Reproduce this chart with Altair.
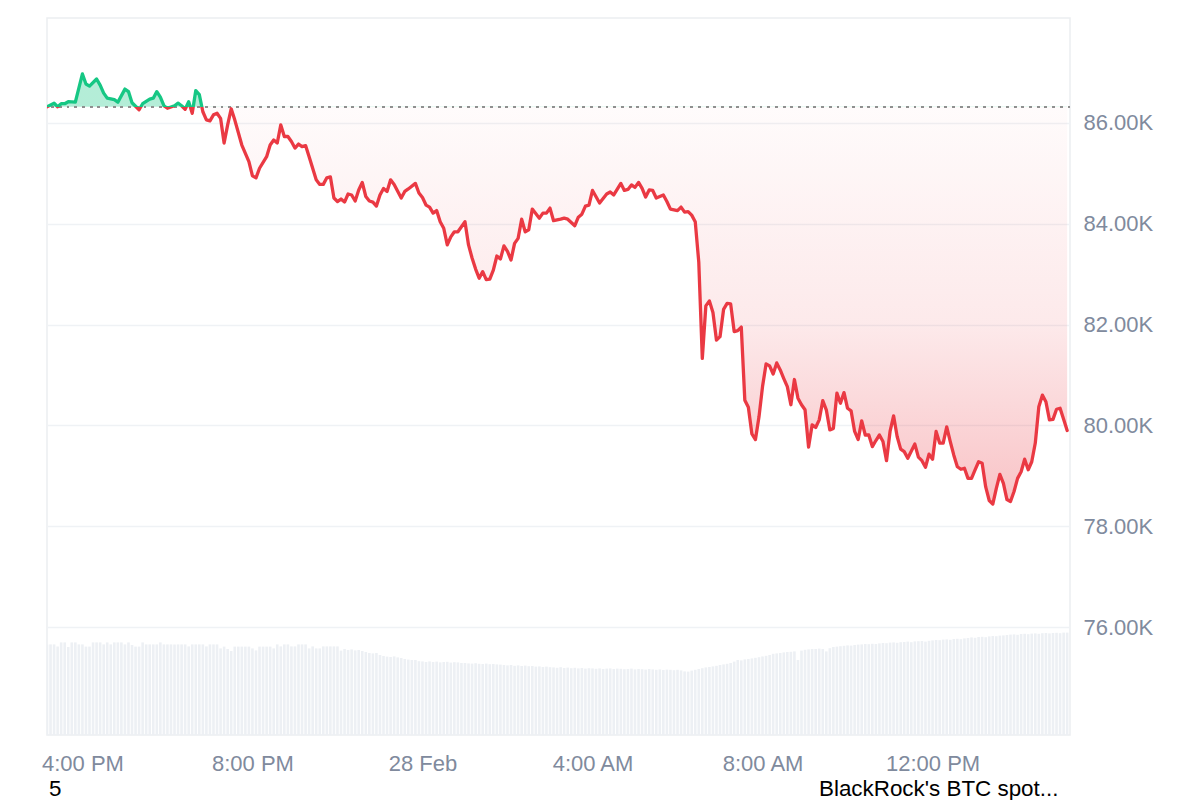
import altair as alt
import pandas as pd

# ---------------- data ----------------
START = "2025-02-27T15:10:00Z"      # first 5-minute slot
X_END = "2025-02-28T15:14:00Z"
STEP_MINUTES = 5
BASE_PRICE = 86320                  # opening price (dotted reference line)

# slot index (5-minute steps since START) of each price vertex
slots = [0, 2, 3, 4, 5, 6, 8, 10, 11, 12, 14, 15, 16, 17, 19, 20, 22, 23, 24, 26,
         27, 29, 30, 31, 32, 33, 34, 36, 37, 38, 39, 40, 41, 42, 43, 44, 45, 46, 47, 48,
         49, 50, 51, 52, 53, 55, 57, 58, 59, 60, 62, 63, 64, 65, 66, 67, 68, 69, 70, 71,
         72, 73, 74, 75, 76, 77, 78, 79, 80, 81, 82, 83, 84, 85, 86, 87, 88, 89, 90, 91,
         92, 93, 94, 95, 96, 97, 98, 100, 101, 102, 104, 105, 106, 107, 108, 109, 110, 111, 112, 113,
         114, 115, 116, 117, 118, 119, 120, 121, 122, 123, 124, 125, 126, 127, 128, 129, 130, 131, 132, 133,
         134, 135, 136, 137, 139, 140, 141, 142, 143, 145, 146, 147, 149, 150, 151, 152, 153, 154, 156, 158,
         159, 160, 162, 163, 164, 165, 166, 167, 168, 169, 170, 171, 172, 174, 175, 176, 178, 179, 180, 181,
         182, 183, 184, 185, 186, 187, 188, 189, 190, 191, 192, 193, 194, 195, 196, 197, 198, 199, 200, 201,
         202, 203, 204, 205, 206, 207, 208, 209, 210, 211, 212, 213, 214, 215, 216, 217, 218, 219, 220, 221,
         222, 223, 224, 225, 226, 227, 228, 229, 230, 231, 232, 233, 234, 235, 236, 237, 238, 239, 240, 241,
         242, 243, 245, 246, 247, 248, 249, 250, 251, 252, 253, 254, 255, 256, 257, 258, 259, 260, 261, 262,
         263, 264, 265, 266, 267, 268, 269, 270, 271, 272, 273, 274, 275, 276, 277, 278, 279, 280, 281, 282,
         283, 284, 285, 286, 287, 288]

prices = [86320, 86390, 86320, 86380, 86380, 86420, 86410, 86970, 86770, 86730, 86870, 86750, 86590, 86490, 86460, 86410, 86670, 86620, 86400, 86260,
          86380, 86470, 86490, 86620, 86510, 86340, 86290, 86340, 86390, 86340, 86270, 86420, 86190, 86640, 86560, 86220, 86060, 86040, 86160, 86190,
          86090, 85600, 85960, 86280, 86060, 85560, 85230, 84950, 84910, 85100, 85330, 85560, 85660, 85600, 85960, 85730, 85730, 85630, 85500, 85580,
          85530, 85550, 85330, 85100, 84870, 84780, 84780, 84910, 84930, 84510, 84440, 84490, 84430, 84590, 84570, 84450, 84670, 84820, 84540, 84450,
          84430, 84350, 84570, 84700, 84640, 84870, 84780, 84510, 84640, 84690, 84800, 84610, 84520, 84370, 84330, 84210, 84260, 84040, 83910, 83580,
          83740, 83840, 83840, 83940, 84040, 83580, 83320, 83100, 82920, 83050, 82890, 82900, 83080, 83360, 83300, 83560, 83450, 83280, 83610, 83710,
          84090, 83840, 83880, 84290, 84110, 84210, 84210, 84310, 84060, 84090, 84110, 84090, 83960, 84130, 84190, 84350, 84370, 84660, 84410, 84590,
          84630, 84570, 84800, 84660, 84680, 84770, 84720, 84820, 84700, 84530, 84670, 84660, 84510, 84570, 84440, 84290, 84260, 84330, 84230, 84240,
          84170, 84040, 83240, 81330, 82370, 82470, 82240, 81690, 81760, 82300, 82420, 82410, 81860, 81880, 81950, 80500, 80360, 79830, 79720, 80170,
          80770, 81220, 81180, 81020, 81240, 81100, 80930, 80770, 80410, 80910, 80540, 80410, 80310, 79570, 80010, 79960, 80110, 80490, 80310, 79910,
          79940, 80640, 80440, 80650, 80340, 80290, 79880, 79720, 80090, 79810, 79810, 79580, 79700, 79810, 79680, 79300, 79880, 80190, 79780, 79530,
          79480, 79350, 79630, 79370, 79300, 79170, 79430, 79330, 79880, 79650, 79650, 79970, 79680, 79410, 79180, 79130, 79150, 78950, 78950, 79120,
          79280, 79250, 78780, 78510, 78440, 78750, 79030, 78850, 78530, 78490, 78690, 78950, 79080, 79330, 79120, 79280, 79650, 80370, 80600, 80470,
          80110, 80120, 80320, 80340, 80120, 79900]

# volume bars, one per 5-minute slot (arbitrary units)
volume = [45.3, 45.3, 45.3, 44.3, 46.3, 46.3, 44.0, 46.3, 46.3, 45.3,
          45.3, 44.2, 44.2, 46.3, 46.3, 46.3, 45.3, 46.3, 45.3, 46.3,
          46.3, 46.3, 45.3, 46.3, 45.0, 44.2, 44.2, 46.3, 45.3, 45.3,
          45.3, 45.3, 46.3, 45.3, 45.3, 45.3, 45.3, 45.3, 45.3, 45.3,
          44.3, 45.3, 45.3, 45.3, 45.3, 44.3, 45.3, 45.3, 45.3, 43.3,
          44.2, 43.0, 42.0, 44.2, 44.2, 44.2, 44.2, 44.2, 43.3, 42.3,
          44.2, 44.2, 44.2, 44.2, 43.3, 45.3, 44.3, 45.3, 45.3, 44.3,
          44.3, 45.3, 45.3, 45.3, 43.3, 44.3, 43.3, 43.3, 44.3, 44.3,
          44.3, 44.3, 44.3, 42.2, 43.0, 42.5, 42.8, 42.3, 42.5, 42.0,
          41.5, 41.0, 40.8, 41.0, 40.0, 39.5, 39.2, 39.0, 39.3, 38.8,
          38.5, 38.0, 37.7, 37.5, 37.5, 36.9, 36.8, 36.5, 36.8, 36.5,
          36.7, 36.3, 36.5, 36.6, 36.2, 36.4, 36.3, 36.0, 36.0, 35.8,
          35.7, 35.9, 35.6, 35.5, 35.7, 35.4, 35.5, 35.3, 35.2, 35.0,
          34.8, 35.0, 34.6, 34.8, 34.5, 34.7, 34.4, 34.5, 34.2, 34.3,
          34.0, 34.2, 33.9, 33.8, 33.6, 33.9, 33.5, 33.7, 33.4, 33.6,
          33.3, 33.5, 33.2, 33.4, 33.3, 33.1, 33.3, 33.0, 33.2, 33.3,
          33.0, 33.2, 33.1, 32.9, 33.0, 33.2, 32.8, 33.0, 32.9, 32.7,
          33.0, 32.8, 32.6, 32.8, 32.5, 32.7, 32.6, 32.4, 32.6, 32.3,
          31.8, 31.7, 32.2, 32.6, 33.0, 33.4, 33.8, 34.0, 34.3, 34.6,
          35.0, 35.3, 35.6, 36.0, 36.7, 37.5, 37.3, 37.8, 38.0, 38.3,
          38.6, 38.9, 39.3, 39.6, 40.0, 40.6, 40.8, 41.0, 41.3, 41.5,
          41.6, 41.8, 37.5, 42.2, 42.6, 42.8, 43.0, 43.0, 43.2, 43.0,
          41.8, 43.4, 44.0, 44.2, 44.4, 44.6, 44.8, 44.7, 45.0, 45.2,
          45.3, 45.5, 45.4, 45.6, 45.5, 45.8, 46.0, 45.9, 46.2, 46.3,
          46.1, 46.4, 46.5, 46.7, 46.4, 46.8, 46.9, 47.0, 46.7, 47.1,
          47.3, 47.5, 47.4, 47.7, 47.8, 47.6, 48.0, 48.1, 47.9, 48.3,
          48.5, 48.8, 48.6, 49.0, 49.1, 48.9, 49.3, 49.5, 49.4, 49.7,
          49.8, 50.0, 50.2, 50.3, 50.1, 50.5, 50.6, 50.4, 50.7, 50.8,
          50.6, 50.9, 51.0, 50.8, 51.0, 51.1, 50.9, 51.2, 51.2]

Y_TICKS = [76000, 78000, 80000, 82000, 84000, 86000]
X_TICKS = ["2025-02-27T16:00:00Z", "2025-02-27T20:00:00Z", "2025-02-28T00:00:00Z",
           "2025-02-28T04:00:00Z", "2025-02-28T08:00:00Z", "2025-02-28T12:00:00Z"]
NOTE_LEFT = "5"
NOTE_RIGHT = "BlackRock's BTC spot..."

# ---------------- build tables ----------------
t0 = pd.Timestamp(START)


def stamp(k):
    return (t0 + pd.Timedelta(minutes=STEP_MINUTES * k)).strftime("%Y-%m-%dT%H:%M:%SZ")


def ms(s):
    return int(pd.Timestamp(s).value // 10**6)


price_df = pd.DataFrame({"time": [stamp(s) for s in slots], "price": prices})
vol_df = pd.DataFrame({"time": [stamp(i) for i in range(len(volume))], "volume": volume})

GREEN = "#16c784"
RED = "#ea3943"
LABEL = "#808a9d"
FONT = "Liberation Sans"

pmax = max(max(prices), BASE_PRICE)
pmin = min(min(prices), BASE_PRICE)
split = (pmax - BASE_PRICE) / (pmax - pmin)

x_scale = alt.Scale(type="utc", domain=[ms(START), ms(X_END)], padding=0, nice=False)
x_axis = alt.Axis(values=[ms(v) for v in X_TICKS],
                  labelExpr="utchours(datum.value) == 0 ? utcFormat(datum.value, '%-d %b') : utcFormat(datum.value, '%-I:%M %p')",
                  grid=False, domain=False, ticks=False, tickSize=0, labelPadding=18,
                  labelFontSize=22, labelColor=LABEL, labelFont=FONT, title=None)
X = alt.X("time:T", scale=x_scale, axis=x_axis)

y_scale = alt.Scale(domain=[73860, 88080], nice=False, zero=False)
y_axis = alt.Axis(orient="right", values=Y_TICKS,
                  labelExpr="format(datum.value / 1000, '.2f') + 'K'",
                  grid=True, gridColor="#eff2f5", gridWidth=1.5,
                  domain=False, ticks=False, tickSize=0, labelPadding=13,
                  labelFontSize=22, labelColor=LABEL, labelFont=FONT, title=None)

vol_layer = alt.Chart(vol_df).mark_bar(width=2.6, color="#edf0f4", clip=True).encode(
    x=X,
    y=alt.Y("volume:Q", scale=alt.Scale(domain=[0, 358.5]), axis=None),
)

red_mid = split + 0.55 * (1 - split)
area_fill = alt.LinearGradient(
    gradient="linear", x1=0, x2=0, y1=0, y2=1,
    stops=[alt.GradientStop(color="rgba(22,199,132,0.32)", offset=0),
           alt.GradientStop(color="rgba(22,199,132,0.32)", offset=split),
           alt.GradientStop(color="rgba(234,57,67,0.02)", offset=split),
           alt.GradientStop(color="rgba(234,57,67,0.11)", offset=red_mid),
           alt.GradientStop(color="rgba(234,57,67,0.30)", offset=1)])
line_stroke = alt.LinearGradient(
    gradient="linear", x1=0, x2=0, y1=0, y2=1,
    stops=[alt.GradientStop(color=GREEN, offset=0),
           alt.GradientStop(color=GREEN, offset=split),
           alt.GradientStop(color=RED, offset=split),
           alt.GradientStop(color=RED, offset=1)])

area = alt.Chart(price_df).mark_area(fill=area_fill, opacity=1, clip=True).encode(
    x=X,
    y=alt.Y("price:Q", scale=y_scale, axis=y_axis),
    y2=alt.Y2Datum(BASE_PRICE),
)
line = alt.Chart(price_df).mark_line(stroke=line_stroke, strokeWidth=3.3, strokeJoin="round",
                                     strokeCap="round", clip=True).encode(
    x=X,
    y=alt.Y("price:Q", scale=y_scale, axis=y_axis),
)
base_rule = alt.Chart(price_df).mark_rule(color="#8f8f8f", strokeDash=[2, 5.7], strokeWidth=1.6).encode(
    y=alt.YDatum(BASE_PRICE, scale=y_scale, axis=y_axis),
)

price_layers = alt.layer(area, base_rule, line)

note_left = alt.Chart(pd.DataFrame({"note": [NOTE_LEFT]})).mark_text(
    align="left", baseline="middle", fontSize=22.4, font=FONT, color="#000000"
).encode(text="note:N", x=alt.value(2), y=alt.value(771))
note_right = alt.Chart(pd.DataFrame({"note": [NOTE_RIGHT]})).mark_text(
    align="left", baseline="middle", fontSize=22.4, font=FONT, color="#000000"
).encode(text="note:N", x=alt.value(772), y=alt.value(771))

chart = alt.layer(vol_layer, price_layers, note_left, note_right).resolve_scale(
    y="independent"
).properties(
    width=1023, height=717,
    padding={"left": 33, "top": 10, "right": 5, "bottom": 5},
    background="#ffffff",
).configure_view(stroke="#eceef1", strokeWidth=1.5)

chart.save("out.html", embed_options={"renderer": "svg", "actions": False})
